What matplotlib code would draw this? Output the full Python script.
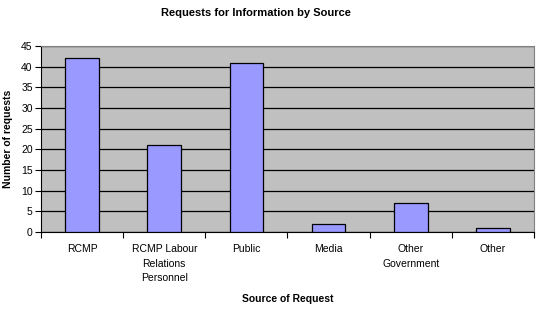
import numpy as np
import matplotlib.pyplot as plt

plt.rcParams['font.family'] = ['Liberation Sans', 'DejaVu Sans']

sources = ["RCMP", "RCMP Labour\nRelations\nPersonnel", "Public", "Media",
           "Other\nGovernment", "Other"]
requests = [42, 21, 41, 2, 7, 1]
yticks = [0, 5, 10, 15, 20, 25, 30, 35, 40, 45]

fig = plt.figure(figsize=(5.41, 3.09), dpi=100)
ax = fig.add_axes([41/541, 1-232/309, 493/541, 186/309])
ax.set_facecolor('#C0C0C0')

x = np.arange(len(sources))
ax.bar(x, requests, width=0.41, color='#9999FF', edgecolor='black', linewidth=0.9, zorder=3)

ax.set_xlim(-0.5, len(sources)-0.5)
ax.set_ylim(0, 45)
ax.set_yticks(yticks)
ax.yaxis.grid(True, color='black', linewidth=0.9, zorder=1)
ax.set_axisbelow(True)

ax.set_xticks(x)
ax.set_xticklabels(sources, fontsize=7.5, linespacing=1.55)
ax.set_xticks(np.arange(len(sources)+1)-0.5, minor=True)
ax.tick_params(axis='x', which='major', length=0, pad=9)
ax.tick_params(axis='x', which='minor', length=4, direction='out', width=0.8)
ax.tick_params(axis='y', length=4, direction='out', width=0.8, labelsize=7.5, pad=2)

for s in ['top', 'right']:
    ax.spines[s].set_color('#808080')
for s in ['left', 'bottom']:
    ax.spines[s].set_color('black')

fig.text(256/541, 1-13/309, "Requests for Information by Source", fontsize=8,
         fontweight='bold', ha='center', va='center')
ax.set_xlabel("Source of Request", fontsize=7.5, fontweight='bold', labelpad=8)
ax.set_ylabel("Number of requests", fontsize=7.5, fontweight='bold', labelpad=6)

fig.savefig("out.png", dpi=100)
